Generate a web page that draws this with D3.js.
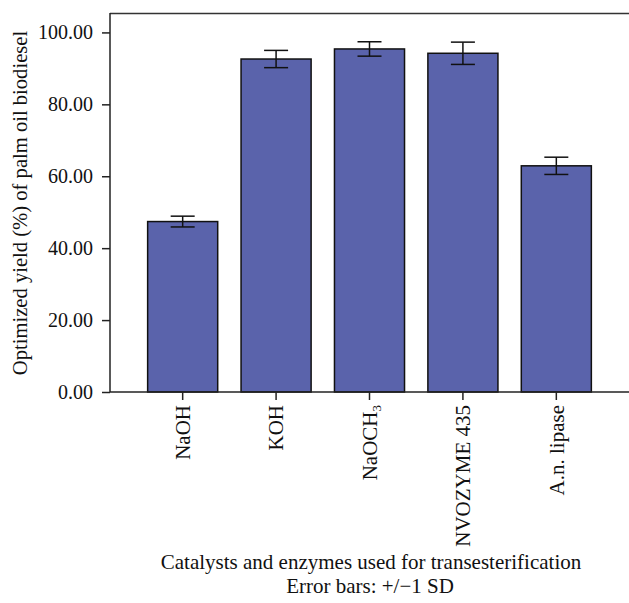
<!DOCTYPE html>
<html><head><meta charset="utf-8">
<script src="https://cdn.jsdelivr.net/npm/d3@7"></script>
<style>body{margin:0;background:#fff}svg{display:block}text{font-family:"Liberation Serif","Times New Roman",serif;fill:#111}</style>
</head><body>
<script>
const categories = ["NaOH","KOH","NaOCH3","NVOZYME 435","A.n. lipase"];
const values = [47.4, 92.6, 95.4, 94.2, 62.9];
const sds = [1.5, 2.4, 2.0, 3.1, 2.4];
const yTicks = [0, 20, 40, 60, 80, 100];

const W = 629, H = 603;
const m = {left:110, top:13, right:0, bottom:211};
const svg = d3.select("body").append("svg").attr("width",W).attr("height",H);
const x = d3.scaleBand().domain(categories).range([m.left, W]).paddingInner(0.25).paddingOuter(0.403);
const y = d3.scaleLinear().domain([0, 105.4]).range([H-m.bottom, m.top]);
const y0 = y(0);

// frame top line
svg.append("line").attr("x1",m.left).attr("x2",W).attr("y1",m.top+0.5).attr("y2",m.top+0.5)
  .attr("stroke","#333").attr("stroke-width",1.5);

// bars
svg.append("g").selectAll("rect").data(categories).join("rect")
  .attr("x", d=>x(d)).attr("width", x.bandwidth())
  .attr("y", (d,i)=>y(values[i])).attr("height", (d,i)=>y0-y(values[i]))
  .attr("fill","#5a63ab").attr("stroke","#111").attr("stroke-width",1.5);

// error bars
const eb = svg.append("g").attr("stroke","#111").attr("stroke-width",1.5);
categories.forEach((c,i)=>{
  const cx = x(c)+x.bandwidth()/2;
  const hi = y(values[i]+sds[i]), lo = y(values[i]-sds[i]);
  eb.append("line").attr("x1",cx).attr("x2",cx).attr("y1",hi).attr("y2",lo);
  eb.append("line").attr("x1",cx-12).attr("x2",cx+12).attr("y1",hi).attr("y2",hi);
  eb.append("line").attr("x1",cx-12).attr("x2",cx+12).attr("y1",lo).attr("y2",lo);
});

// y axis
const ya = svg.append("g").attr("transform",`translate(${m.left},0)`)
  .call(d3.axisLeft(y).tickValues(yTicks).tickFormat(d3.format(".2f")).tickSize(8).tickPadding(9));
ya.select(".domain").attr("stroke","#222").attr("stroke-width",1.5).attr("d",`M0,${m.top}V${y0}`);
ya.selectAll(".tick line").attr("stroke","#222").attr("stroke-width",1.5);
ya.selectAll(".tick text").attr("font-size",20).attr("font-family","Liberation Serif, serif").attr("fill","#111");

// x axis
const xa = svg.append("g").attr("transform",`translate(0,${y0})`)
  .call(d3.axisBottom(x).tickSize(8).tickFormat(""));
xa.select(".domain").attr("stroke","#222").attr("stroke-width",1.5).attr("d",`M${m.left},0H${W}`);
xa.selectAll(".tick line").attr("stroke","#222").attr("stroke-width",1.5);
xa.selectAll(".tick").each(function(d){
  const t = d3.select(this).append("text")
    .attr("transform","rotate(-90)").attr("x",-13).attr("y",0).attr("dy","0.35em")
    .attr("text-anchor","end").attr("font-size",21).attr("font-family","Liberation Serif, serif").attr("fill","#111");
  if (d === "NaOCH3") {
    t.append("tspan").text("NaOCH");
    t.append("tspan").text("3").attr("font-size",13).attr("dy","0.3em");
  } else t.text(d);
});

// axis titles
svg.append("text").attr("transform",`translate(27,203) rotate(-90)`)
  .attr("text-anchor","middle").attr("font-size",20.6).text("Optimized yield (%) of palm oil biodiesel");
svg.append("text").attr("x",371).attr("y",569).attr("text-anchor","middle").attr("font-size",21)
  .text("Catalysts and enzymes used for transesterification");
svg.append("text").attr("x",370).attr("y",593).attr("text-anchor","middle").attr("font-size",21)
  .text("Error bars: +/\u22121 SD");
</script>
</body></html>
